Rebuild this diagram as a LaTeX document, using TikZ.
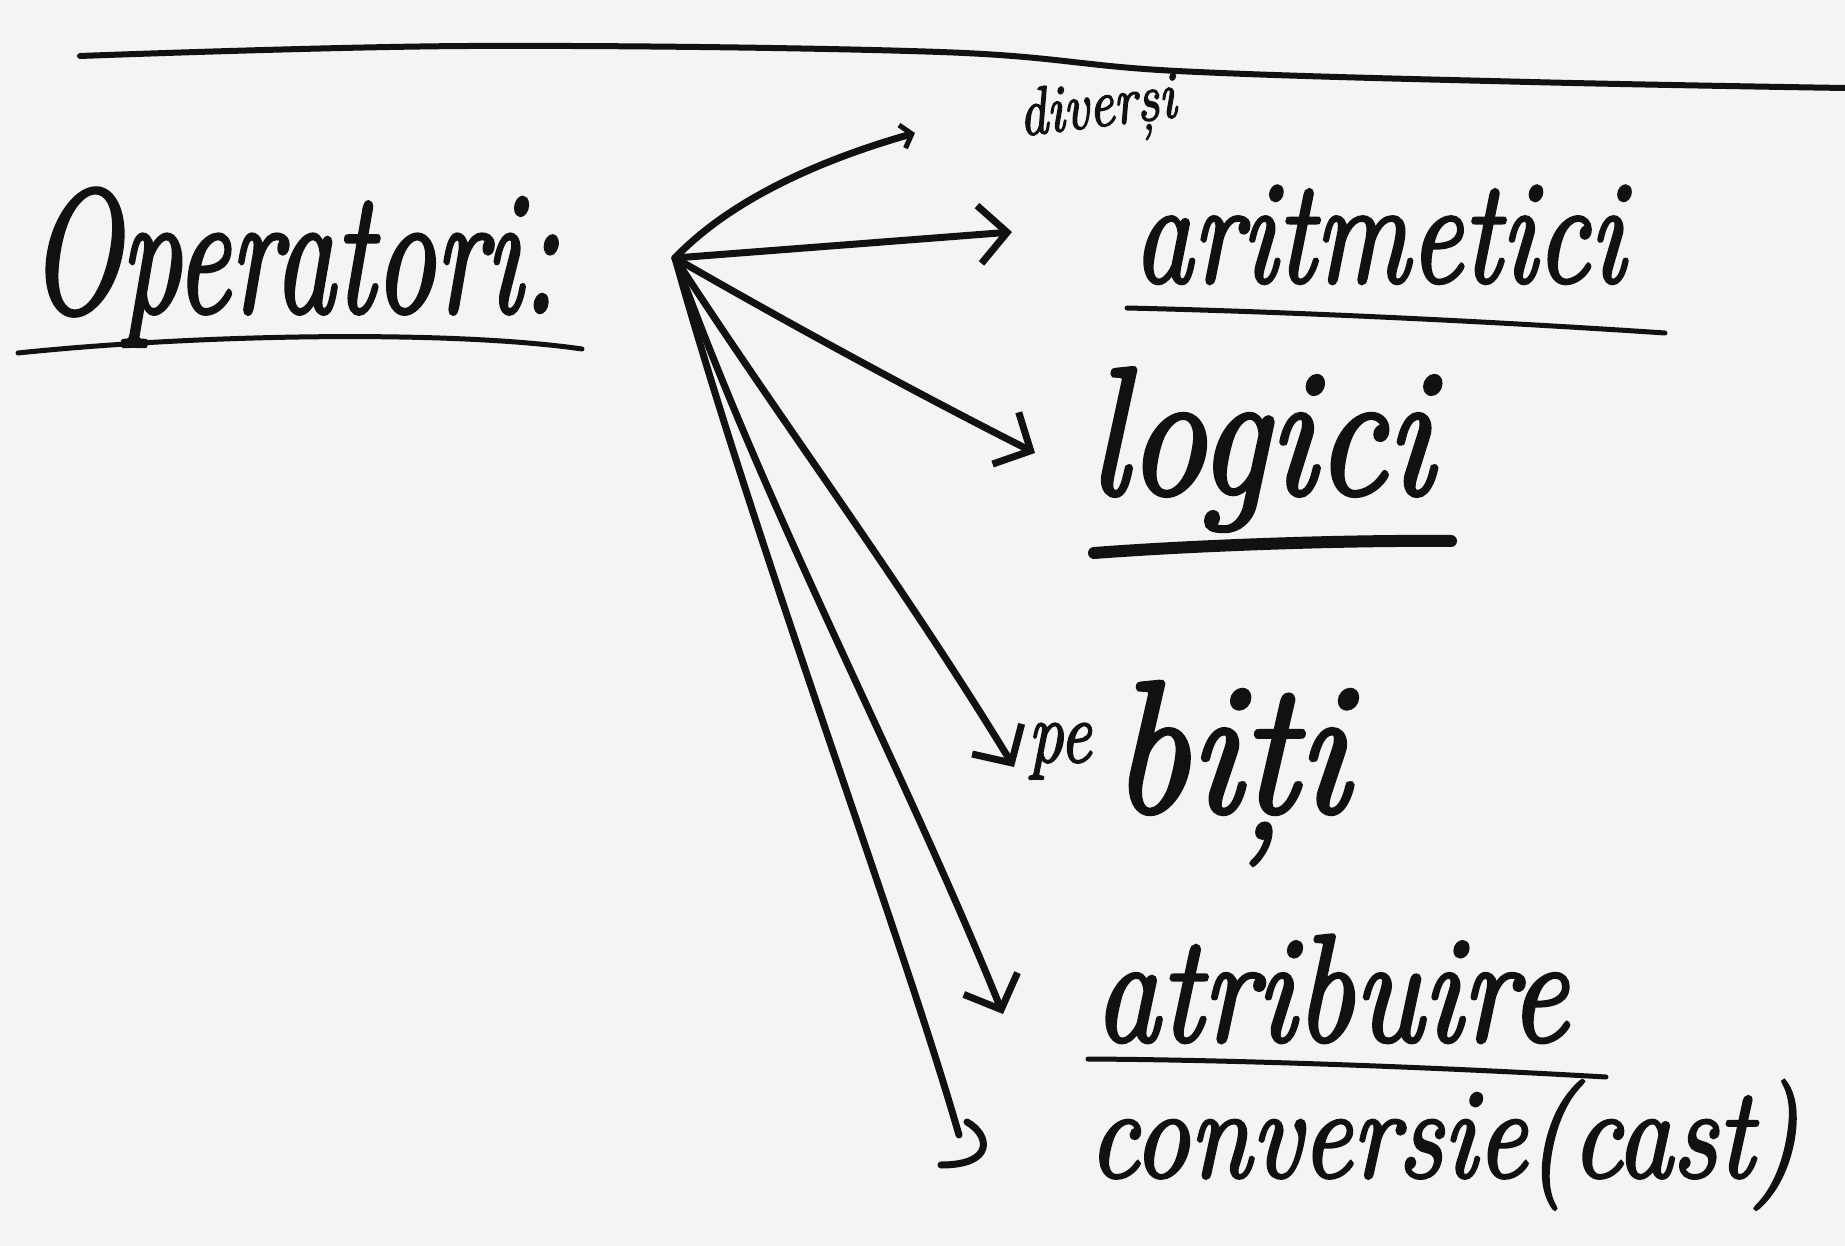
\documentclass[tikz,border=0pt]{standalone}
\usepackage{fontspec}
\usepackage{graphicx}
\usetikzlibrary{arrows.meta}
\definecolor{paper}{HTML}{F4F4F4}
\definecolor{ink}{HTML}{111111}
% heavy italic face that reads like a marker pen
\newfontfamily\handfamily{Latin Modern Roman}[FakeBold=2.5, ItalicFeatures={FakeBold=2.5}]
% #1 size, #2 horizontal factor, #3 vertical factor, #4 text
\newcommand\hw[4]{\scalebox{#2}[#3]{\handfamily\itshape\fontsize{#1}{#1}\selectfont #4}}
\tikzset{
  ink line/.style={draw=ink, line width=7pt, line cap=round, line join=round},
  branch/.style={ink line, -{Straight Barb[length=28pt,width=58pt,line width=7pt]}},
  small branch/.style={ink line, -{Straight Barb[length=10pt,width=24pt,line width=5pt]}},
  word/.style={text=ink, inner sep=0pt, anchor=base west},
}
\begin{document}
\begin{tikzpicture}[x=1pt,y=-1pt]
  % sheet
  \fill[paper] (0,0) rectangle (1845,1246);
  \useasboundingbox (0,0) rectangle (1845,1246);

  % rule across the top of the page
  \draw[ink line, line width=6pt] plot[smooth, tension=0.6] coordinates
    {(80,56) (470,46) (940,52) (1177,71) (1530,82) (1845,88)};

  % heading and the kinds of operators
  \node[word] (ops)  at (29,312)   {\hw{135}{0.9}{1.3}{Operatori:}};
  \node[word, rotate=7] (div) at (1021,136) {\hw{56}{1}{1.2}{diverși}};
  \node[word] (ari)  at (1133,282) {\hw{118}{1}{1.25}{aritmetici}};
  \node[word] (log)  at (1088,494) {\hw{145}{1.08}{1.25}{logici}};
  \node[word] (bit)  at (1028,812)
    {\hw{70}{1}{1.25}{\raisebox{40pt}{pe}}\hspace{20pt}\hw{150}{1.15}{1.25}{biți}};
  \node[word] (atr)  at (1094,1041) {\hw{122}{1.07}{1.25}{atribuire}};
  \node[word] (conv) at (1088,1177) {\hw{112}{1}{1.15}{conversie(cast)}};

  % underlines
  \draw[ink line, line width=5pt] (18,353) .. controls (200,334) and (450,330) .. (582,349);
  \draw[ink line, line width=5pt] (1127,308) .. controls (1300,312) and (1500,322) .. (1665,333);
  \draw[ink line, line width=12pt] (1094,553) .. controls (1200,545) and (1350,540) .. (1451,541);
  \draw[ink line, line width=5pt] (1088,1059) .. controls (1250,1060) and (1450,1068) .. (1606,1077);

  % branching point and arrow ends
  \coordinate (o)    at (675,258);
  \coordinate (eDiv) at (915,133);
  \coordinate (eAri) at (1012,232);
  \coordinate (eLog) at (1035,453);
  \coordinate (eBit) at (1014,767);
  \coordinate (eAtr) at (1003,1014);
  \coordinate (eConv) at (959,1135);
  \coordinate (hA) at (967,1122);
  \coordinate (hB) at (941,1165);

  % arrows from the heading to each kind
  \draw[small branch] (o) .. controls (730,200) and (820,160) .. (eDiv);
  \draw[branch] (o) -- (eAri);
  \draw[branch] (o) .. controls (800,330) and (930,400) .. (eLog);
  \draw[branch] (o) .. controls (780,420) and (900,580) .. (eBit);
  \draw[branch] (o) .. controls (770,520) and (900,760) .. (eAtr);
  \draw[ink line] (o) .. controls (760,560) and (900,930) .. (eConv);
  \draw[ink line] (hA) .. controls (990,1135) and (995,1165) .. (hB);
\end{tikzpicture}
\end{document}
